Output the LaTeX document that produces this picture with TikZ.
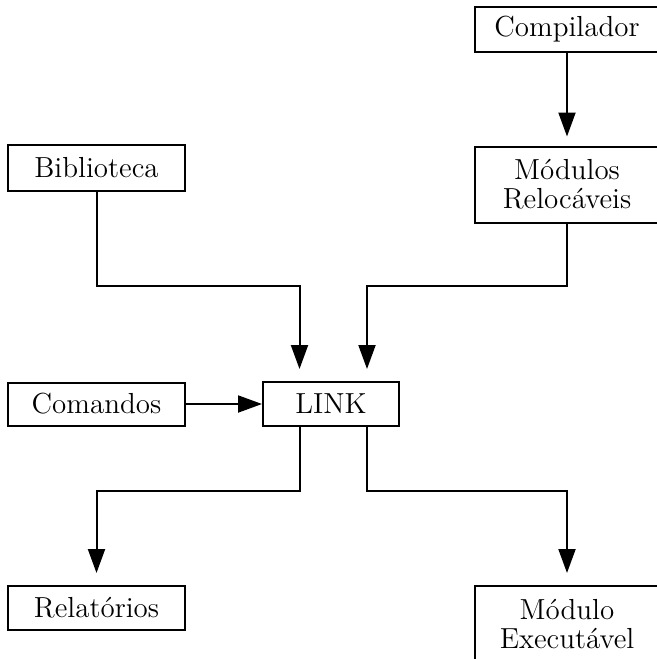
\documentclass[tikz,border=0pt]{standalone}
\usetikzlibrary{arrows.meta}
\begin{document}
\begin{tikzpicture}[x=0.5pt,y=-0.5pt,
  box/.style={draw,line width=1pt,rectangle,inner sep=0pt,align=center,
    font=\fontsize{14.5}{14.5}\selectfont},
  lbox/.style={box,minimum width=88.5pt},
  rbox/.style={box,minimum width=92pt},
  arr/.style={draw,line width=1pt,-{Triangle[length=12pt,width=8.5pt]}},
  gap/.style={shorten >=6pt}]
\useasboundingbox (0,0) rectangle (657,659);
\node[rbox,minimum height=22.5pt] (comp) at (567,29.5) {Compilador};
\node[lbox,minimum height=23pt] (bib) at (96.5,168) {Biblioteca};
\node[rbox,minimum height=38pt] (mod) at (567,184.5) {Módulos\\Relocáveis};
\node[lbox,minimum height=21.5pt] (cmd) at (96.5,404) {Comandos};
\node[box,minimum width=68pt,minimum height=22pt] (link) at (331,404) {LINK};
\node[lbox,minimum height=22pt] (rel) at (96.5,608) {Relatórios};
\node[rbox,minimum height=38pt] (exe) at (567,624) {Módulo\\Executável};
\coordinate (jl) at (299.5,286);
\coordinate (jr) at (367,286);
\draw[arr,shorten >=4.5pt] (comp.south) -- (mod.north);
\draw[arr,gap] (bib.south) |- (jl) -- (jl |- link.north);
\draw[arr,gap] (mod.south) |- (jr) -- (jr |- link.north);
\draw[arr] (cmd.east) -- (link.west);
\draw[arr,gap] (link.south -| jl) -- ++(0,64) -| (rel.north);
\draw[arr,gap] (link.south -| jr) -- ++(0,64) -| (exe.north);
\end{tikzpicture}
\end{document}
